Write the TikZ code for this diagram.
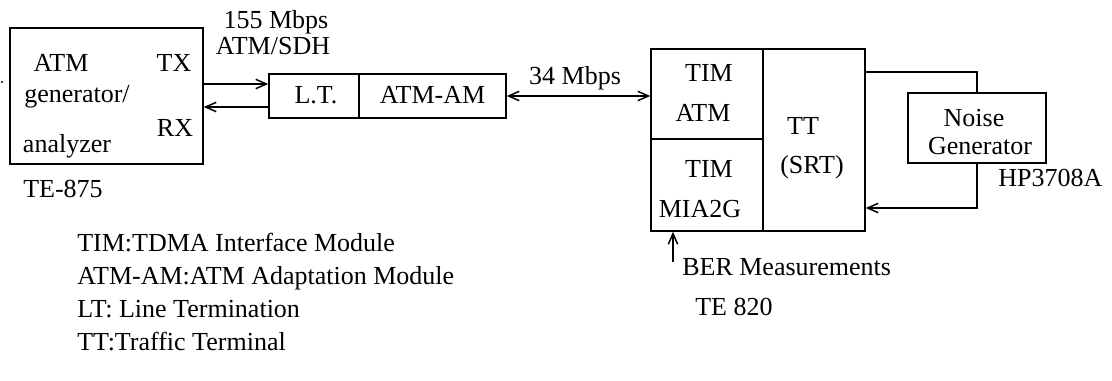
\documentclass[tikz,border=0pt]{standalone}
\usepackage{fontspec}
\setmainfont{Liberation Serif}
\usetikzlibrary{arrows.meta}
\begin{document}
\begin{tikzpicture}[x=0.75pt,y=-0.75pt,
  every node/.style={font=\fontsize{19.5}{23}\selectfont},
  box/.style={draw, line width=1.1pt, inner sep=0, minimum width=#1},
  lbl/.style={inner sep=0, anchor=base},
  lblw/.style={inner sep=0, anchor=base west},
  conn/.style={line width=1.1pt},
  arr/.style={conn, -{Straight Barb[length=8pt,width=7pt]}},
  darr/.style={conn, {Straight Barb[length=8pt,width=7pt]}-{Straight Barb[length=8pt,width=7pt]}}]
\useasboundingbox (0,0) rectangle (1112,381);
% generator / analyzer
\node[box=144.75pt, minimum height=102pt] (gen) at (106.5,96) {};
\fill (2,82) circle (1.1);
\node[lbl] (tatm) at (61,72) {ATM};
\node[lbl] (ttx) at (174,72) {TX};
\node[lbl] (tgen) at (77,103) {generator/};
\node[lbl] (trx) at (175,137) {RX};
\node[lbl] (tana) at (67,152) {analyzer};
\node[lblw] (tte875) at (23,197) {TE-875};
% line termination + ATM-AM
\node[box=67.5pt, minimum height=33pt] (lt) at (314,96) {};
\node[lbl] (tlt) at (316,104) {L.T.};
\node[box=110.25pt, minimum height=33pt] (atmam) at (432.5,96) {};
\node[lbl] (tam) at (432.5,104) {ATM-AM};
\node[lbl] (t155) at (276,29) {155 Mbps};
\node[lbl] (tsdh) at (273,55) {ATM/SDH};
\draw[arr] (gen.east |- 0,84) -- (lt.west |- 0,84);
\draw[arr] (lt.west |- 0,107) -- (gen.east |- 0,107);
% TT block
\node[box=84pt, minimum height=67.5pt] (timatm) at (707,94) {};
\node[box=84pt, minimum height=69pt] (timmia) at (707,185) {};
\node[box=76.5pt, minimum height=136.5pt] (tt) at (814,140) {};
\node[lbl] (t1) at (709,82) {TIM};
\node[lbl] (t2) at (703,122) {ATM};
\node[lbl] (t3) at (709,177) {TIM};
\node[lbl] (t4) at (700,217) {MIA2G};
\node[lbl] (t5) at (803,135) {TT};
\node[lbl] (t6) at (812,173) {(SRT)};
\draw[darr] (atmam.east) -- (timatm.west |- atmam.east);
\node[lbl] (t34) at (575,85) {34 Mbps};
% noise generator
\node[box=103.5pt, minimum height=52.5pt] (noise) at (977,128) {};
\node[lbl] (tn1) at (974,127) {Noise};
\node[lbl] (tn2) at (980,154) {Generator};
\node[lblw] (thp) at (998,186) {HP3708A};
\draw[conn] (tt.east |- 0,72) -| (noise.north);
\draw[arr] (noise.south) |- (tt.east |- 0,208);
% BER
\coordinate (ber) at (673,262);
\draw[arr] (ber) -- (ber |- timmia.south);
\node[lblw] (tber) at (682,275) {BER Measurements};
\node[lblw] (tte820) at (695,315) {TE 820};
% legend
\node[lblw] (l1) at (77,251) {TIM:TDMA Interface Module};
\node[lblw] (l2) at (77,284) {ATM-AM:ATM Adaptation Module};
\node[lblw] (l3) at (77,317) {LT: Line Termination};
\node[lblw] (l4) at (77,350) {TT:Traffic Terminal};
\end{tikzpicture}
\end{document}
